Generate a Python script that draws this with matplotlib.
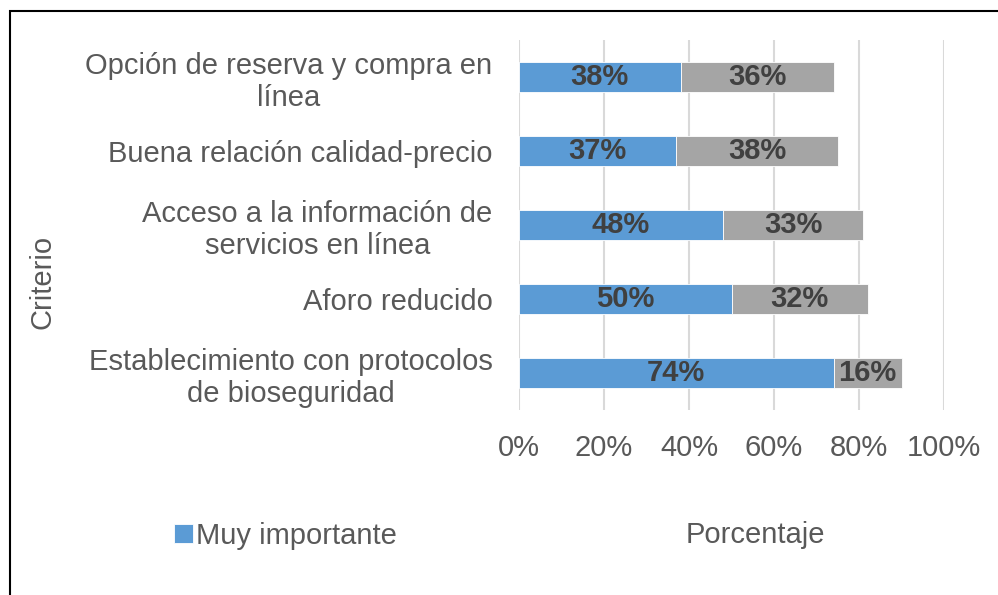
import matplotlib
matplotlib.use("Agg")
import matplotlib.pyplot as plt
from matplotlib.patches import Rectangle
import numpy as np

plt.rcParams['font.family'] = ['Liberation Sans', 'DejaVu Sans']

categories = [
    "Establecimiento con protocolos\nde bioseguridad",
    "Aforo reducido",
    "Acceso a la información de\nservicios en línea",
    "Buena relación calidad-precio",
    "Opción de reserva y compra en\nlínea",
]
muy_importante = [0.74, 0.50, 0.48, 0.37, 0.38]
importante = [0.16, 0.32, 0.33, 0.38, 0.36]
xticks = [0, 0.2, 0.4, 0.6, 0.8, 1.0]
xtick_labels = ["0%", "20%", "40%", "60%", "80%", "100%"]

BLUE = "#5B9BD5"
GRAY = "#A5A5A5"
TXT = "#595959"
LBL = "#404040"
FS = 21

W, H = 998, 595
fig = plt.figure(figsize=(W / 100, H / 100), dpi=100)
ax = fig.add_axes([519 / W, 1 - 410 / H, (944 - 519) / W, (410 - 40) / H])

y = np.arange(len(categories))
h = 0.4
b1 = ax.barh(y, muy_importante, height=h, color=BLUE, label="Muy importante",
             edgecolor="white", linewidth=0.6, zorder=3)
b2 = ax.barh(y, importante, left=muy_importante, height=h, color=GRAY,
             label="_nolegend_", edgecolor="white", linewidth=0.6, zorder=3)

for bars in (b1, b2):
    for r in bars:
        cx = r.get_x() + r.get_width() / 2
        cy = r.get_y() + r.get_height() / 2
        ax.text(cx, cy, f"{r.get_width() * 100:.0f}%", ha="center", va="center",
                fontsize=FS, fontweight="bold", color=LBL, zorder=4)

ax.set_xlim(0, 1.0)
ax.set_ylim(-0.5, len(categories) - 0.5)
ax.set_xticks(xticks)
ax.set_xticklabels(xtick_labels)
ax.set_yticks(y)
ax.set_yticklabels(categories)
ax.tick_params(axis="both", length=0, labelsize=FS, colors=TXT)
ax.tick_params(axis="y", pad=19)
ax.tick_params(axis="x", pad=17)
ax.xaxis.grid(True, color="#D9D9D9", linewidth=1.5, zorder=0)
ax.set_axisbelow(True)
for s in ax.spines.values():
    s.set_visible(False)
for lbl in ax.get_yticklabels():
    lbl.set_linespacing(1.2)
    lbl.set_multialignment("center")

fig.text(42 / W, 1 - 282 / H, "Criterio", rotation=90, ha="center", va="center",
         fontsize=FS, color=TXT)
fig.text(755 / W, 1 - 535 / H, "Porcentaje", ha="center", va="center",
         fontsize=FS, color=TXT)

leg = fig.legend(handles=[b1], labels=["Muy importante"], loc="center left",
                 bbox_to_anchor=(174 / W, 1 - 536 / H), frameon=False,
                 fontsize=FS, handlelength=0.65, handleheight=0.65,
                 handletextpad=0.12, borderpad=0, borderaxespad=0)
for t in leg.get_texts():
    t.set_color(TXT)

fig.patches.append(Rectangle((10 / W, -0.1), 1.2, (1 - 11 / H) + 0.1,
                             transform=fig.transFigure, fill=False,
                             edgecolor="black", linewidth=1.5))

fig.savefig("out.png", dpi=100)
